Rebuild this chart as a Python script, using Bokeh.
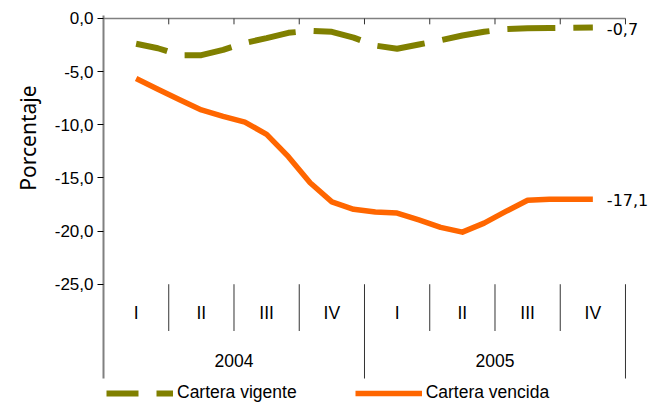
from bokeh.plotting import figure
from bokeh.models import FixedTicker, Legend, LegendItem, Title
from bokeh.core.properties import value
from bokeh.embed import file_html
from bokeh.resources import INLINE

# ---------------- data ----------------
years = ["2004", "2005"]
quarters = ["I", "II", "III", "IV"]
# monthly observations, Feb-2004 .. Nov-2005 (month index from Jan-2004 = 0)
month_idx = list(range(1, 23))
vigente = [-2.38, -2.8, -3.45, -3.45, -2.95, -2.3, -1.85, -1.35, -1.15, -1.25, -1.8,
           -2.55, -2.85, -2.45, -2.05, -1.6, -1.25, -1.0, -0.92, -0.9, -0.88, -0.85]
vencida = [-5.65, -6.65, -7.65, -8.6, -9.2, -9.75, -10.9, -13.0, -15.45, -17.25, -17.95,
           -18.2, -18.3, -18.95, -19.65, -20.1, -19.25, -18.15, -17.1, -17.0, -17.0, -17.0]
series_names = ["Cartera vigente", "Cartera vencida"]
end_labels = ["-0,7", "-17,1"]
y_ticks = [0, -5, -10, -15, -20, -25]
y_tick_labels = ["0,0", "-5,0", "-10,0", "-15,0", "-20,0", "-25,0"]
y_title = "Porcentaje"

OLIVE = "#808000"
ORANGE = "#FF6600"
CAT_FONT = "Liberation Sans"

Y_TOP = 0.282
Y_AXIS_END = -33.87
Y_BOTTOM = -36.41

# x positions in quarter units (one quarter = 3 months)
xs = [(m + 0.5) / 3.0 for m in month_idx]
n_q = len(years) * len(quarters)

p = figure(width=661, height=405, x_range=(0, 8.552), y_range=(Y_BOTTOM, Y_TOP),
           output_backend="svg", toolbar_location=None, x_axis_location=None,
           min_border_left=103, min_border_right=0, min_border_top=15, min_border_bottom=0)
p.outline_line_color = None
p.grid.visible = False
p.background_fill_color = "white"
p.border_fill_color = "white"

ax = p.yaxis[0]
ax.ticker = FixedTicker(ticks=y_ticks)
ax.bounds = (Y_AXIS_END, Y_TOP)
ax.major_label_overrides = {t: s for t, s in zip(y_ticks, y_tick_labels)}
ax.minor_tick_line_color = None
ax.axis_line_color = "#808080"
ax.axis_line_width = 2
ax.major_tick_line_color = "#000000"
ax.major_tick_out = 6
ax.major_tick_in = 0
ax.major_label_standoff = 4
ax.major_label_text_font = "Liberation Sans"
ax.major_label_text_font_size = "17px"
ax.major_label_text_color = "#000000"

# y title, placed over the value region
p.add_layout(Title(text=y_title, align="right", offset=70, standoff=19,
                   text_font="Noto Sans", text_font_size="21px", text_font_style="normal",
                   text_color="#000000"), "left")

# zero line with quarter ticks
p.segment(x0=[0], y0=[0], x1=[n_q], y1=[0], line_color="#808080", line_width=1.5)
bounds = list(range(1, n_q + 1))
p.segment(x0=bounds, y0=[0] * len(bounds), x1=bounds, y1=[-0.55] * len(bounds),
          line_color="#333333", line_width=1)

# category separators below the plot
q_bounds = [b for b in bounds if b % len(quarters) != 0]
y_bounds = [b for b in bounds if b % len(quarters) == 0]
p.segment(x0=q_bounds, y0=[-25] * len(q_bounds), x1=q_bounds, y1=[-29.4] * len(q_bounds),
          line_color="#333333", line_width=1)
p.segment(x0=y_bounds, y0=[-25] * len(y_bounds), x1=y_bounds, y1=[Y_AXIS_END] * len(y_bounds),
          line_color="#333333", line_width=1)

# category labels
qx, qt = [], []
for yi, _ in enumerate(years):
    for qi, q in enumerate(quarters):
        qx.append(yi * len(quarters) + qi + 0.5)
        qt.append(q)
p.text(x=qx, y=[-27.75] * len(qx), text=qt, text_align="center", text_baseline="middle",
       text_font=value(CAT_FONT), text_font_size="17.5px", text_color="#000000")
yx = [yi * len(quarters) + len(quarters) / 2 for yi in range(len(years))]
p.text(x=yx, y=[-32.15] * len(yx), text=years, text_align="center", text_baseline="middle",
       text_font=value(CAT_FONT), text_font_size="17.5px", text_color="#000000")

# series
r1 = p.line(xs, vigente, line_color=OLIVE, line_width=6, line_dash="48 18",
            line_dash_offset=16)
r2 = p.line(xs, vencida, line_color=ORANGE, line_width=5.5, line_join="round")

# end labels
p.text(x=[xs[-1], xs[-1]], y=[vigente[-1], vencida[-1]], text=end_labels,
       x_offset=14, y_offset=1, text_align="left", text_baseline="middle",
       text_font=value("DejaVu Sans"), text_font_size="16px", text_color="#000000")

legend = Legend(items=[LegendItem(label=series_names[0], renderers=[r1]),
                       LegendItem(label=series_names[1], renderers=[r2])],
                orientation="horizontal", location=(3, 2),
                glyph_width=67, glyph_height=18, label_height=18, label_standoff=4,
                spacing=58, padding=2, margin=0, border_line_color=None,
                background_fill_alpha=0, label_text_font=CAT_FONT,
                label_text_font_size="17.5px", label_text_color="#000000")
p.add_layout(legend)

open("out.html", "w").write(file_html(p, INLINE))
